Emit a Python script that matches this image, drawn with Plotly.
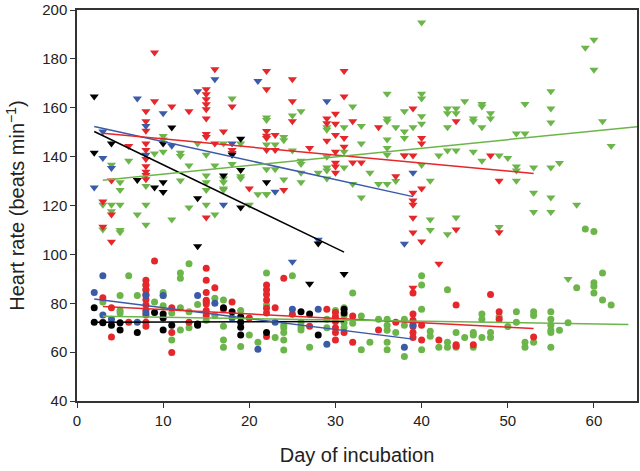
import plotly.graph_objects as go

# ---------------- data ----------------
# Triangles (upper band)
black_tri_day = [2, 11, 2, 4, 10, 19, 18, 19, 17, 7, 10, 9, 10, 14, 22, 19, 14, 28, 27, 31]
black_tri_hr = [164.6, 151.9, 141.6, 145.4, 145.4, 147.3, 140.8, 134.5, 132.3, 130.4, 129.5, 127.4, 125.5, 123, 129.5, 119.2, 103.3, 104.4, 88, 92]

blue_tri_day = [7, 10, 16, 14, 8, 3, 11, 8, 3, 4, 2, 18, 17, 21, 29, 25, 28, 38, 39, 23]
blue_tri_hr = [163.8, 157.7, 171.7, 166.8, 152.5, 150.3, 144.4, 140.8, 139.4, 135.3, 127.4, 145.4, 120.3, 170.9, 162.7, 97, 106, 104.3, 133.4, 125.6]

red_tri_day = [9, 9, 8, 11, 13, 16, 15, 15, 15, 15, 15, 15, 15, 15, 18, 8, 8, 17, 22, 22,
               6, 8, 8, 8, 8, 8, 8, 8, 16, 18, 18, 4, 20, 15, 3, 4, 3, 4,
               25, 25, 25, 31, 31, 30, 29, 29, 30, 32, 35, 39, 40, 40, 44, 22, 22, 22, 23, 22, 23,
               27, 29, 30, 31, 31, 30, 30, 30, 30, 32, 33, 37, 24, 39, 39, 39, 39, 40, 38, 39,
               48, 49, 39, 40, 42, 44, 39, 49]
red_tri_hr = [182.6, 162.7, 158.6, 160.5, 158.6, 175.8, 167.6, 165.5, 163.5, 161.4, 159.4, 155.6, 149.3, 148, 160.5, 154.5, 150.6, 150.3, 175, 167.6,
              144.3, 145.4, 142.7, 139, 136.1, 133.8, 132.5, 130.7, 145.4, 142.7, 141.5, 130.2, 127, 115.1, 121.6, 116.3, 111.3, 105.2,
              171.7, 162.7, 154.5, 175, 164.6, 157.5, 155.6, 153.7, 153.5, 154.5, 152, 159.7, 147.6, 145.4, 154.5, 150.5, 148.5, 147.6, 148.9, 142.7, 142.7,
              143.5, 146.5, 148.9, 147.6, 144, 142, 137.5, 136, 133.4, 137.6, 137.6, 132, 126.3, 125.2, 122, 120.3, 115, 127, 140.5, 140.5,
              140.5, 130.1, 109, 105.3, 96.2, 110.2, 86.3, 109.1]

green_tri_day = [18, 22, 22, 10, 10, 4, 6, 9, 10, 12, 12, 14, 15, 16, 17, 19, 18, 19, 19, 13, 15, 15, 15, 5, 5, 12, 8, 17, 17, 17, 17, 21, 22,
                 15, 20, 13, 16, 7, 8, 3, 4, 4, 5, 8, 11, 5, 3, 5,
                 25, 26, 29, 29, 31, 32, 33, 36, 36, 36, 37, 38, 38, 38, 39, 40, 40, 40, 40, 40, 40, 43, 43, 44, 44, 43, 43, 44, 42, 41, 41,
                 24, 24, 23, 22, 25, 26, 26, 26, 26, 28, 29, 29, 29, 31, 29, 31, 33, 34, 32, 33, 35, 36, 36, 36, 36, 37, 38, 22, 23, 22, 24,
                 60, 59, 60, 55, 55, 55, 52, 45, 47, 47, 48, 48, 46, 46, 47, 51, 52, 61, 62, 46, 47, 49, 50, 51, 51, 51, 53, 55, 56, 53, 55,
                 58, 53, 55, 44, 49, 43, 41, 57]
green_tri_hr = [163.8, 156, 155, 148.4, 147, 136.7, 138.3, 141.3, 142, 141.6, 140.3, 145.4, 140.8, 136.4, 145.4, 145.4, 137, 132, 131, 136.4, 132.3, 129.5, 126.3, 129.5, 126.3, 130.2, 128, 131, 129.5, 127, 126.3, 124.6, 124.6,
                120.3, 120.3, 119.2, 116.3, 116.3, 120.3, 120.3, 120.3, 117.6, 120.3, 112.1, 114.3, 110, 110.2, 109.1,
                156.8, 158.6, 152, 151, 152, 160.5, 152.5, 165.7, 155.6, 154.5, 152, 158.6, 150.3, 147.6, 152, 194.9, 165.7, 163.8, 156.5, 153.5, 136.6, 159.7, 157.8, 159.7, 157.8, 152, 142.5, 142.5, 140.5, 130.1, 114.3,
                148, 146.7, 145, 145, 142.5, 138.3, 137, 129.5, 133.4, 133.4, 140, 135.5, 134.3, 142, 131, 135.5, 145.4, 133.4, 128.8, 123.3, 128.8, 128.8, 147, 143.5, 140.8, 130, 140.5, 134.8, 134.8, 124.6, 130.6,
                187.8, 184.6, 175.5, 166.8, 159.7, 154, 161.5, 162.7, 161.5, 160.5, 157.8, 155.6, 155.6, 154.5, 152, 149.5, 149.5, 154.5, 144.3, 142, 138.3, 140.5, 139.4, 136, 134.3, 130.1, 135.5, 135.5, 137.4, 125.2, 123.3,
                120.3, 117.3, 117.3, 115.1, 111.2, 108.2, 110, 89.9]

# Circles (lower band)
green_circ_day = [3, 5, 5, 5, 6, 7, 8, 8, 9, 10, 10, 10, 11, 11, 12, 12, 12, 12, 13, 13, 14, 16, 16, 17, 17, 17, 17, 19, 19, 20, 21, 22, 22, 15, 13,
                  23, 24, 24, 24, 24, 24, 25, 26, 26, 26, 27, 29, 29, 30, 31, 31, 31, 31, 32, 32, 33, 33, 34, 35, 36, 36, 36, 36, 36, 37, 38, 38, 38,
                  40, 40, 40, 40, 41, 41, 42, 43, 43, 43, 39,
                  59, 60, 61, 58, 60, 60, 60, 61, 62, 47, 47, 49, 51, 51, 53, 53, 55, 55, 55, 55, 55, 56, 57, 50, 44, 45, 46, 46, 47, 48, 48, 52, 52, 53, 55, 44, 46]
green_circ_hr = [80.5, 77, 76, 83.2, 91.3, 83.2, 87.5, 85.5, 80.5, 84.4, 83.2, 79, 76, 65, 92.4, 90.2, 78.2, 69.1, 96.2, 76.5, 79.5, 82, 75, 81.3, 70.6, 65, 62, 77, 62.3, 67, 64, 92.4, 79.3, 73, 70,
                 66, 71, 70, 68, 65, 60.9, 91.3, 72.2, 70.2, 69.1, 62, 73.5, 70, 77, 78.2, 75, 72, 70, 84.2, 71.8, 74.8, 61, 64, 73.5, 73.5, 71, 69, 64, 61, 68, 73.5, 71, 58.2,
                 91.3, 87.5, 77.5, 61, 68.5, 66.5, 62, 85.5, 64, 62, 72,
                 110.4, 109.4, 92.4, 86.3, 88.4, 87, 84.2, 81.3, 79.3, 75.6, 73.5, 74.5, 76.5, 72.2, 76.5, 75, 76.5, 73.5, 71, 69, 68, 69, 72, 70.5, 68, 66, 68, 67, 66, 68, 66, 64, 62, 64, 62, 62, 62]

red_circ_day = [9, 15, 15, 15, 15, 15, 15, 15, 3, 3, 4, 4, 6, 8, 8, 8, 8, 8, 8, 8, 8, 8, 8, 11, 11, 11, 13, 16, 17, 18, 20,
                22, 22, 22, 22, 22, 22, 22, 23, 24, 25, 27, 29, 30, 30, 30, 30, 30, 30, 31, 32, 32, 35, 37,
                39, 39, 39, 39, 39, 39, 40, 40, 42, 44, 44, 48, 49, 49, 53, 44, 46, 15]
red_circ_hr = [97.3, 94.3, 89.4, 84.4, 81.2, 80.5, 79.7, 77, 82.3, 72.2, 78.2, 66.2, 72.2, 89.4, 87.5, 85.5, 83.6, 81.4, 79.3, 77.1, 75.2, 72.2, 70.6, 78.2, 68, 59.8, 72.2, 86.3, 77.5, 80.5, 74,
               87.5, 85.5, 83.6, 81.3, 78, 76, 66.4, 78.2, 90.2, 75.5, 70.6, 77.5, 76.2, 74.5, 72.5, 70, 68, 65, 68, 74.8, 64, 69.1, 72.2,
               84.2, 75.6, 73, 70.5, 68, 66, 71, 65, 65, 79.3, 62.5, 83.6, 76.5, 73.5, 66.2, 63, 63, 75]

blue_circ_day = [3, 2, 3, 4, 7, 8, 8, 10, 14, 16, 18, 21, 23, 25, 28, 29, 38, 39]
blue_circ_hr = [91.3, 84.4, 75.2, 73.5, 72.2, 83.2, 76, 83.2, 83.2, 80, 74, 61.2, 72.2, 77.5, 77.5, 63.2, 62, 71]

black_circ_day = [2, 2, 4, 5, 7, 9, 10, 10, 10, 11, 14, 14, 17, 18, 19, 19, 19, 19, 22, 26, 27, 28, 31, 31, 5, 3]
black_circ_hr = [78.2, 72.2, 71, 69.1, 68, 76.2, 75.6, 74, 69.1, 71, 71.5, 71, 78.2, 76.5, 74.5, 72.2, 70.2, 67, 68, 76.5, 75.6, 67, 77.5, 76, 72, 72]

# Regression fits: intercept, slope, first day, last day
fit_names = ["black_tri", "blue_tri", "red_tri", "green_tri", "black_circ", "blue_circ", "red_circ", "green_circ"]
fit_intercept = [153.7, 153.9, 150.5, 129.3, 72.2, 82.6, 79.2, 74.8]
fit_slope = [-1.703, -0.776, -0.328, 0.353, 0.01, -0.443, -0.18, -0.054]
fit_start = [2, 2, 3, 3, 2, 2, 3, 3]
fit_end = [31, 39, 53, 65, 31, 39, 53, 64]

# ---------------- styles ----------------
C_GREEN = "#6cb54a"
C_RED = "#e5262b"
C_BLUE = "#3b5ba9"
C_BLACK = "#000000"
fit_colors = [C_BLACK, C_BLUE, C_RED, C_GREEN, C_BLACK, C_BLUE, C_RED, C_GREEN]
FONT = "Liberation Sans, Arial, sans-serif"

fig = go.Figure()

def add_pts(x, y, color, symbol, size):
    fig.add_trace(go.Scatter(x=x, y=y, mode="markers",
                             marker=dict(color=color, symbol=symbol, size=size, line=dict(width=0)),
                             showlegend=False, hoverinfo="skip"))

add_pts(green_tri_day, green_tri_hr, C_GREEN, "triangle-down", 8)
add_pts(green_circ_day, green_circ_hr, C_GREEN, "circle", 7)
add_pts(red_tri_day, red_tri_hr, C_RED, "triangle-down", 8)
add_pts(red_circ_day, red_circ_hr, C_RED, "circle", 7)
add_pts(blue_tri_day, blue_tri_hr, C_BLUE, "triangle-down", 8)
add_pts(blue_circ_day, blue_circ_hr, C_BLUE, "circle", 7)
add_pts(black_tri_day, black_tri_hr, C_BLACK, "triangle-down", 8)
add_pts(black_circ_day, black_circ_hr, C_BLACK, "circle", 7)

for a, b, s, e, c in zip(fit_intercept, fit_slope, fit_start, fit_end, fit_colors):
    fig.add_trace(go.Scatter(x=[s, e], y=[a + b * s, a + b * e], mode="lines",
                             line=dict(color=c, width=1.5), showlegend=False, hoverinfo="skip"))

axis_common = dict(showgrid=False, zeroline=False, showline=True, linecolor="#333333", linewidth=1.5,
                   mirror=True, ticks="outside", ticklen=5, tickwidth=1.2, tickcolor="#333333",
                   automargin=False,
                   tickfont=dict(family=FONT, size=15, color="#222222"))

fig.update_layout(
    width=640, height=471,
    margin=dict(l=77, r=3, t=10, b=70),
    plot_bgcolor="white", paper_bgcolor="white",
    xaxis=dict(range=[0, 65], tickvals=[0, 10, 20, 30, 40, 50, 60],
               title=dict(text="Day of incubation", font=dict(family=FONT, size=20, color="#222222"), standoff=20),
               **axis_common),
    yaxis=dict(range=[40, 200], tickvals=[40, 60, 80, 100, 120, 140, 160, 180, 200],
               title=dict(text="Heart rate (beats min<sup>−1</sup>)", font=dict(family=FONT, size=20, color="#222222"), standoff=12),
               **axis_common),
)

# remove the page's default 8px body margin so the figure fills the 640x471 window exactly
fig.write_html("out.html", config={"displayModeBar": False},
               post_script="document.body.style.margin='0';")
